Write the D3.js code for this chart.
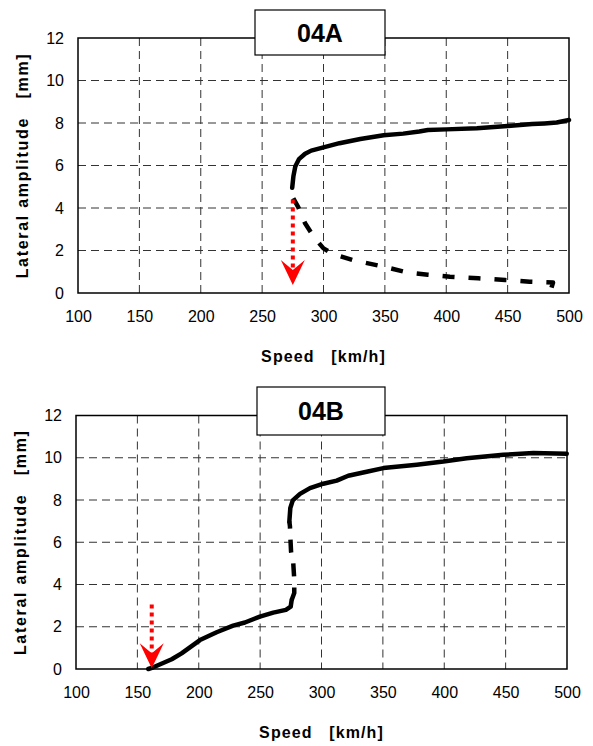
<!DOCTYPE html>
<html><head><meta charset="utf-8">
<script src="https://cdn.jsdelivr.net/npm/d3@7"></script>
<style>body{margin:0;background:#fff}svg{display:block}text{font-family:"Liberation Sans",Arial,sans-serif}</style>
</head><body>
<svg id="c" width="593" height="746"></svg>
<script>
const xTicks = [100,150,200,250,300,350,400,450,500];
const yTicks = [0,2,4,6,8,10,12];
const titles = ["04A","04B"];
const xTitle = "Speed\u00a0\u00a0\u00a0[km/h]";
const yTitle = "Lateral amplitude\u00a0\u00a0\u00a0[mm]";

// 04A: upper solid branch (speed, amplitude)
const aUpper = [[274.5,4.95],[275.5,5.5],[277,5.95],[280,6.3],[285,6.55],[290,6.7],[300,6.85],[313,7.05],[330,7.25],[349,7.42],[365,7.5],[378,7.6],[385,7.67],[400,7.7],[425,7.75],[450,7.86],[470,7.95],[480,7.98],[490,8.02],[500,8.14]];
// 04A: lower dashed branch
const aLower = [[275.4,4.46],[279.5,4.03],[285,3.28],[293,2.57],[300,2.1],[308,1.83],[324,1.55],[349,1.24],[368,0.97],[385,0.86],[403,0.77],[426,0.69],[448,0.61],[468,0.53],[487,0.49],[484.5,0.02]];
// 04A: red arrow (speed, from, to)
const aArrow = [275, 4.4, 0.38];

// 04B: lower solid, middle dashed, upper solid
const bLow = [[158.9,0],[163,0.08],[178,0.46],[186,0.74],[201,1.37],[214.6,1.74],[228,2.05],[237.6,2.2],[249.8,2.48],[260.7,2.67],[271,2.8],[274.9,2.95],[275.7,3.27]];
const bMid = [[275.7,3.27],[277.8,3.6],[277.8,4.25],[277,5.0],[275.2,5.56],[274.6,6.27],[274.3,6.76],[273.8,6.98]];
const bHigh = [[273.8,6.98],[274.6,7.62],[276.6,7.98],[282.5,8.29],[290.6,8.56],[301.5,8.77],[312.4,8.92],[321.8,9.15],[336.8,9.34],[350.4,9.51],[377.6,9.67],[399.3,9.82],[418.3,9.98],[448.1,10.14],[472.6,10.22],[499.8,10.19]];
const bArrow = [161.7, 3.05, 0.03];

const svg = d3.select("#c");

function chart(box, title, titleBox, series, arrow) {
  const g = svg.append("g");
  const x = d3.scaleLinear().domain([100,500]).range([box.l, box.r]);
  const y = d3.scaleLinear().domain([0,12]).range([box.b, box.t]);
  // grid
  g.selectAll(".gx").data(xTicks.slice(1,-1)).join("line")
    .attr("x1", d=>x(d)).attr("x2", d=>x(d)).attr("y1", box.t).attr("y2", box.b)
    .attr("stroke","#333").attr("stroke-width",1).attr("stroke-dasharray","8,5");
  g.selectAll(".gy").data(yTicks.slice(1,-1)).join("line")
    .attr("y1", d=>y(d)).attr("y2", d=>y(d)).attr("x1", box.l).attr("x2", box.r)
    .attr("stroke","#333").attr("stroke-width",1).attr("stroke-dasharray","8,5");
  // frame
  g.append("rect").attr("x",box.l).attr("y",box.t).attr("width",box.r-box.l).attr("height",box.b-box.t)
    .attr("fill","none").attr("stroke","#000").attr("stroke-width",1.5);
  // axes labels
  const xa = d3.axisBottom(x).tickValues(xTicks).tickSize(0).tickPadding(18);
  const xg = g.append("g").attr("transform",`translate(0,${box.b})`).call(xa);
  xg.select(".domain").remove();
  xg.selectAll("text").attr("font-size",16).attr("font-family","Liberation Sans, Arial").attr("fill","#000");
  const ya = d3.axisLeft(y).tickValues(yTicks).tickSize(0).tickPadding(14);
  const yg = g.append("g").attr("transform",`translate(${box.l},0)`).call(ya);
  yg.select(".domain").remove();
  yg.selectAll("text").attr("font-size",16).attr("font-family","Liberation Sans, Arial").attr("fill","#000");
  // axis titles
  g.append("text").attr("x",(box.l+box.r)/2).attr("y",box.b+69).attr("text-anchor","middle")
    .attr("font-size",16).attr("font-weight","bold").attr("letter-spacing",1.1).text(xTitle);
  g.append("text").attr("transform",`translate(${box.l-50},${(box.t+box.b)/2}) rotate(-90)`)
    .attr("text-anchor","middle").attr("font-size",16).attr("font-weight","bold")
    .attr("letter-spacing",1.7).text(yTitle);
  // series
  const line = d3.line().x(d=>x(d[0])).y(d=>y(d[1])).curve(d3.curveLinear);
  series.forEach(s => {
    g.append("path").attr("d",line(s.data)).attr("fill","none").attr("stroke","#000")
      .attr("stroke-width",4.5).attr("stroke-linejoin","round")
      .attr("stroke-linecap", s.dash ? "butt" : "round")
      .attr("stroke-dasharray", s.dash || null);
  });
  // red arrow
  const ax = x(arrow[0]), y0 = y(arrow[1]), tip = y(arrow[2]);
  g.append("line").attr("x1",ax).attr("x2",ax).attr("y1",y0).attr("y2",tip-14)
    .attr("stroke","#ff0000").attr("stroke-width",4).attr("stroke-dasharray","4,4");
  g.append("path")
    .attr("d",`M${ax},${tip} L${ax-12},${tip-25} L${ax},${tip-15} L${ax+12},${tip-25} Z`)
    .attr("fill","#ff0000");
  // title box
  g.append("rect").attr("x",titleBox.x).attr("y",titleBox.y).attr("width",titleBox.w).attr("height",titleBox.h)
    .attr("fill","#fff").attr("stroke","#000").attr("stroke-width",1.2);
  g.append("text").attr("x",titleBox.x+titleBox.w/2).attr("y",titleBox.y+titleBox.h/2+9)
    .attr("text-anchor","middle").attr("font-size",25).attr("font-weight","bold").text(title);
}

chart({l:78,r:569,t:38,b:293}, titles[0], {x:255,y:10,w:130,h:45},
  [{data:aUpper},{data:aLower,dash:"12,14"}], aArrow);
chart({l:76,r:567,t:415.5,b:669}, titles[1], {x:257,y:387,w:128,h:48},
  [{data:bLow},{data:bMid,dash:"13,11"},{data:bHigh}], bArrow);
</script>
</body></html>
